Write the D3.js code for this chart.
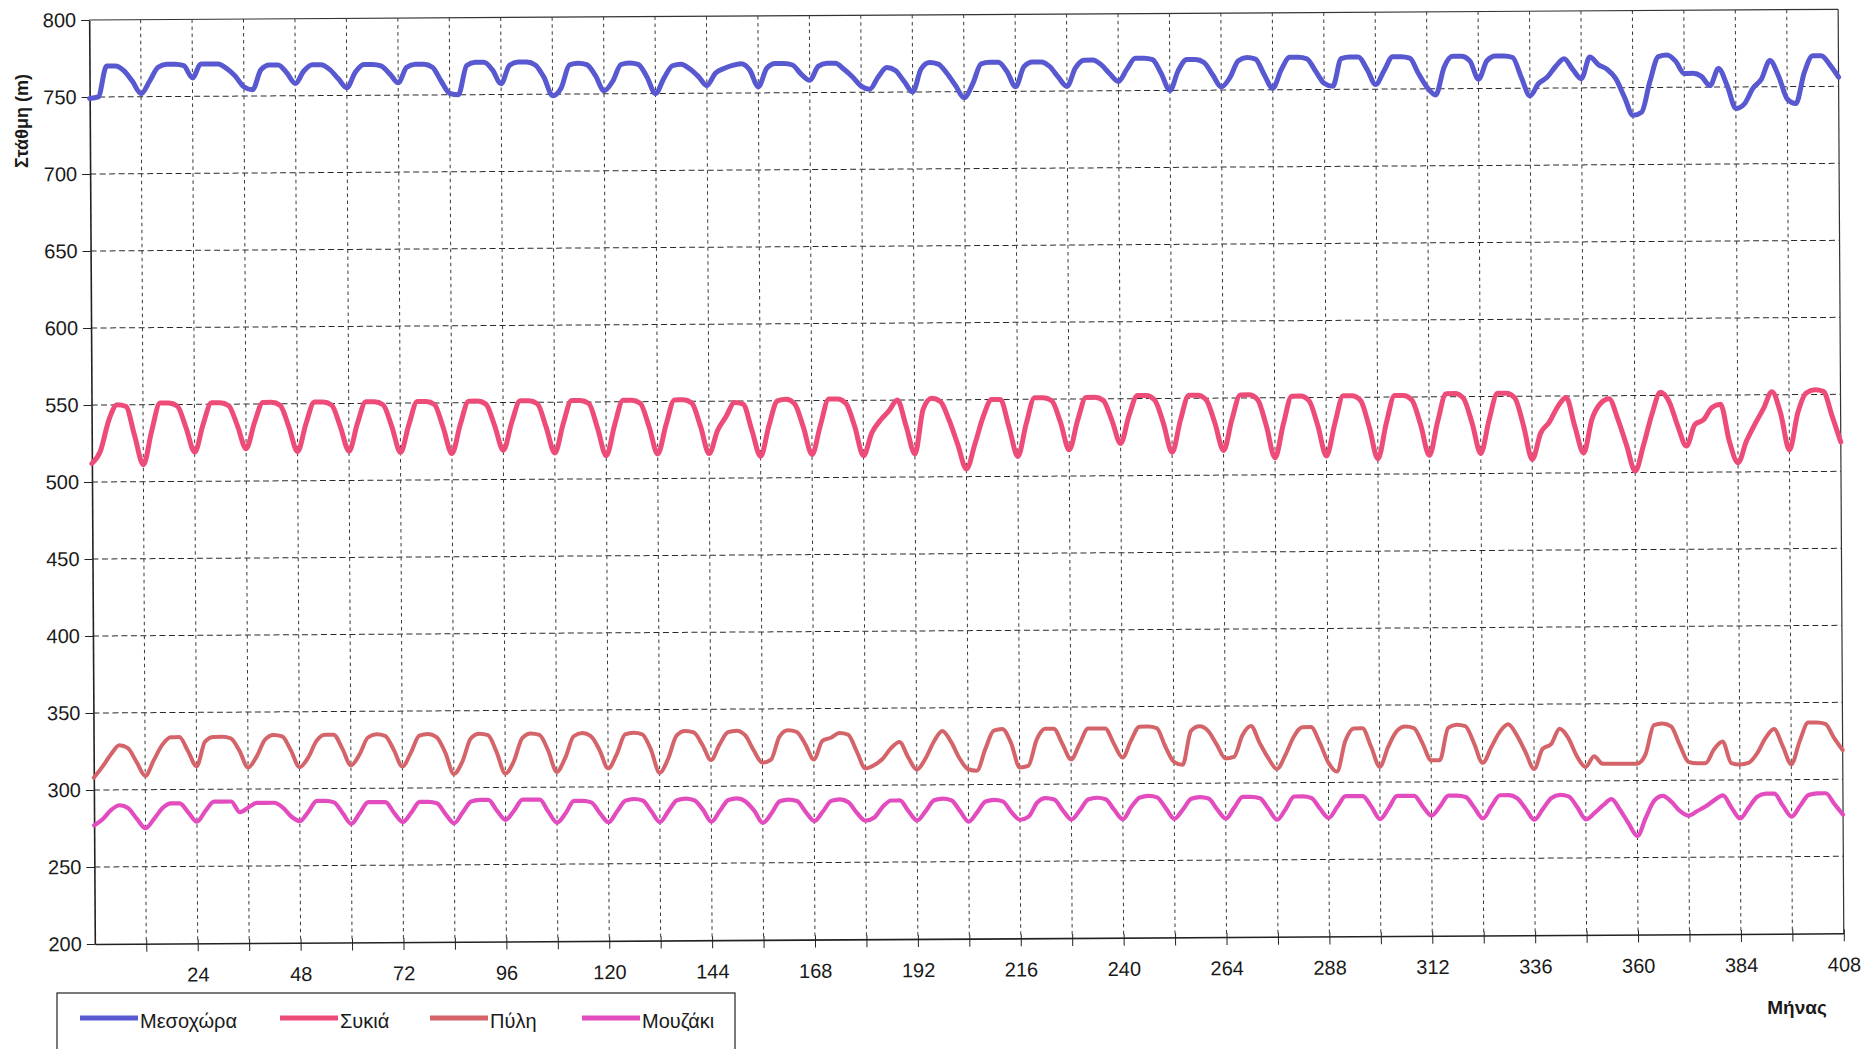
<!DOCTYPE html>
<html><head><meta charset="utf-8">
<script src="https://cdn.jsdelivr.net/npm/d3@7"></script>
<style>
body{margin:0;background:#fff;}
text{font-family:"Liberation Sans",Arial,sans-serif;fill:#1a1a1a;}
</style>
</head><body>
<svg id="chart" width="1862" height="1049"></svg>
<script>
// ---- DATA ----
const months = [0,2,4,6,8,10,12,14,16,18,20,22,24,26,28,30,32,34,36,38,40,42,44,46,48,50,52,54,56,58,60,62,64,66,68,70,72,74,76,78,80,82,84,86,88,90,92,94,96,98,100,102,104,106,108,110,112,114,116,118,120,122,124,126,128,130,132,134,136,138,140,142,144,146,148,150,152,154,156,158,160,162,164,166,168,170,172,174,176,178,180,182,184,186,188,190,192,194,196,198,200,202,204,206,208,210,212,214,216,218,220,222,224,226,228,230,232,234,236,238,240,242,244,246,248,250,252,254,256,258,260,262,264,266,268,270,272,274,276,278,280,282,284,286,288,290,292,294,296,298,300,302,304,306,308,310,312,314,316,318,320,322,324,326,328,330,332,334,336,338,340,342,344,346,348,350,352,354,356,358,360,362,364,366,368,370,372,374,376,378,380,382,384,386,388,390,392,394,396,398,400,402,404,406,408];

const seriesNames = ["Μεσοχώρα","Συκιά","Πύλη","Μουζάκι"];

const mesochora = [
749,750,770,770,767,760, 752,760,769,771,771,770, 762,771,771,771,768,763, 756,754,767,770,770,765,
758,766,770,770,767,761, 755,765,770,770,769,764, 758,768,770,770,768,759, 751,750,769,771,771,766,
757,769,771,771,769,761, 749,754,769,770,769,762, 752,758,769,770,769,761, 750,760,768,769,766,761,
755,763,766,768,769,765, 754,766,769,769,768,762, 758,767,769,769,765,760, 754,752,760,766,764,757,
750,765,769,768,762,754, 746,755,768,769,769,763, 753,766,769,769,766,759, 753,765,770,770,767,761,
756,764,771,771,770,761, 750,763,770,770,768,760, 752,758,769,771,770,760, 751,763,771,771,770,762,
754,752,770,771,771,763, 753,762,771,771,770,760, 751,746,764,771,771,768, 756,768,771,771,770,757,
745,753,757,764,769,762, 756,770,765,762,756,744, 732,734,754,770,771,767, 759,759,757,751,762,751,
736,739,749,755,767,757, 742,739,759,770,770,764, 756];

const sykia = [
512,520,540,550,549,530, 511,533,551,551,549,535, 519,537,551,551,549,536, 521,538,551,551,549,535,
519,537,551,551,549,535, 519,537,551,551,549,535, 518,536,551,551,549,534, 517,536,551,551,549,535,
519,537,551,551,549,534, 517,536,551,551,549,533, 515,535,551,551,549,534, 516,535,551,551,549,534,
516,531,540,549,548,531, 514,534,550,551,548,533, 515,534,551,551,548,533, 514,529,537,543,550,533,
515,544,551,549,537,521, 505,521,539,550,550,532, 513,534,551,551,549,535, 517,536,551,551,549,536,
521,539,552,552,549,534, 515,536,552,552,549,534, 516,536,552,552,549,532, 511,533,551,551,548,532,
512,533,551,551,548,531, 510,533,551,551,548,532, 512,534,552,552,549,533, 513,535,552,552,549,531,
509,526,533,543,549,530, 513,535,545,548,535,518, 501,518,538,552,546,530, 517,531,534,542,544,520,
506,520,531,541,552,538, 514,538,551,553,552,536, 519];

const pyli = [
308,315,323,329,327,318, 309,319,329,334,334,325, 315,331,334,334,333,325, 314,321,332,335,334,325,
314,320,331,335,335,326, 315,322,333,335,334,325, 314,323,334,335,333,323, 309,317,332,335,334,323,
309,317,332,335,334,324, 310,319,333,335,333,324, 312,321,334,335,334,324, 309,318,333,336,335,327,
317,327,335,336,333,323, 315,317,332,336,335,327, 317,329,331,334,333,322, 311,313,317,324,328,318,
310,317,328,335,328,317, 310,309,323,335,336,327, 311,312,329,336,336,326, 316,326,336,336,336,326,
317,328,337,337,336,324, 314,312,334,337,334,325, 316,317,331,337,326,316, 309,318,330,336,336,326,
313,307,327,335,335,323, 310,323,333,336,335,325, 314,314,335,337,336,325, 312,322,332,337,330,319,
308,321,324,334,328,316, 309,316,311,311,311,311, 311,317,336,337,335,323, 312,311,311,320,325,311,
310,311,317,327,333,322, 310,325,337,337,336,327, 319];

const mouzaki = [
277,281,287,290,288,281, 275,281,288,291,291,285, 279,286,292,292,292,285, 288,291,291,291,288,282,
279,285,292,292,291,284, 277,284,291,291,291,284, 278,284,291,291,290,283, 277,284,291,292,292,285,
279,285,292,292,292,284, 277,283,291,291,290,283, 277,284,291,292,291,284, 277,284,291,292,291,285,
277,284,291,292,290,284, 276,282,290,291,290,283, 277,283,290,291,289,282, 277,279,286,290,290,283,
277,283,290,291,290,283, 276,282,289,290,289,282, 277,279,288,291,290,283, 277,283,290,291,290,283,
277,285,291,292,291,284, 277,283,290,291,290,283, 277,284,291,291,290,283, 276,283,291,291,290,283,
277,284,291,291,291,284, 276,283,291,291,291,284, 278,284,291,291,290,283, 276,284,291,291,289,282,
275,282,289,291,290,283, 275,279,284,288,281,272, 264,276,287,290,286,280, 277,280,283,287,290,282,
275,282,289,291,291,283, 276,283,290,291,291,284, 277];

const gridMonths = [12,24,36,48,60,72,84,96,108,120,132,144,156,168,180,192,204,216,228,240,252,264,276,288,300,312,324,336,348,360,372,384,396,408];
const xTickLabels = [24,48,72,96,120,144,168,192,216,240,264,288,312,336,360,384,408];
const yTicks = [200,250,300,350,400,450,500,550,600,650,700,750,800];

const yTitle = "Στάθμη (m)";
const xTitle = "Μήνας";

// ---- DRAW ----
const colors = ["#5858d0","#ee4c78","#d4646a","#e24cbe"];
const widths = [5,5,4,4.2];
const allSeries = [mesochora, sykia, pyli, mouzaki];

const svg = d3.select("#chart");
const x = d3.scaleLinear().domain([0,408]).range([92,1841]);
const y = d3.scaleLinear().domain([200,800]).range([944,20]);

const g = svg.append("g").attr("transform","rotate(-0.35,92,482)");

// horizontal grid
g.append("g").selectAll("line").data(yTicks.filter(v=>v>200&&v<800)).join("line")
  .attr("x1",x(0)).attr("x2",x(408)).attr("y1",d=>y(d)).attr("y2",d=>y(d))
  .attr("stroke","#2a2a2a").attr("stroke-width",1).attr("stroke-dasharray","6,3.5");
// vertical grid
g.append("g").selectAll("line").data(gridMonths.filter(v=>v<408)).join("line")
  .attr("x1",d=>x(d)).attr("x2",d=>x(d)).attr("y1",y(800)).attr("y2",y(200))
  .attr("stroke","#3a3a3a").attr("stroke-width",1).attr("stroke-dasharray","3.5,3.5");

// frame top/right
g.append("line").attr("x1",x(0)).attr("x2",x(408)).attr("y1",y(800)).attr("y2",y(800)).attr("stroke","#333").attr("stroke-width",1.2);
g.append("line").attr("x1",x(408)).attr("x2",x(408)).attr("y1",y(800)).attr("y2",y(200)).attr("stroke","#333").attr("stroke-width",1.2);

// axes
const xAxis = d3.axisBottom(x).tickValues(gridMonths)
  .tickFormat(d=>xTickLabels.includes(d)?d:"").tickSize(8).tickSizeOuter(0).tickPadding(16);
const xa = g.append("g").attr("transform",`translate(0,${y(200)})`).call(xAxis);
xa.selectAll("text").style("font-size","20px").attr("fill","#1a1a1a");
xa.select(".domain").attr("stroke","#222").attr("stroke-width",1.6);
xa.selectAll(".tick line").attr("stroke","#222").attr("y1",-4);

const yAxis = d3.axisLeft(y).tickValues(yTicks).tickSize(8).tickSizeOuter(0).tickPadding(5);
const ya = g.append("g").attr("transform",`translate(${x(0)},0)`).call(yAxis);
ya.selectAll("text").style("font-size","20px").attr("fill","#1a1a1a");
ya.select(".domain").attr("stroke","#222").attr("stroke-width",1.6);
ya.selectAll(".tick line").attr("stroke","#222");

// series lines
const line = d3.line().x((d,i)=>x(months[i])).y(d=>y(d)).curve(d3.curveMonotoneX);
allSeries.forEach((s,k)=>{
  g.append("path").datum(s).attr("d",line).attr("fill","none")
   .attr("stroke",colors[k]).attr("stroke-width",widths[k])
   .attr("stroke-linejoin","round").attr("stroke-linecap","round");
});

// axis titles
svg.append("text").attr("transform","translate(28,121) rotate(-90)")
  .attr("text-anchor","middle").style("font-size","18px").style("font-weight","bold").text(yTitle);
svg.append("text").attr("x",1797).attr("y",1014).attr("text-anchor","middle")
  .style("font-size","19px").style("font-weight","bold").text(xTitle);

// legend
const lg = svg.append("g");
lg.append("rect").attr("x",57).attr("y",993).attr("width",678).attr("height",62)
  .attr("fill","none").attr("stroke","#333").attr("stroke-width",1.3);
const legX = [80,280,430,582];
seriesNames.forEach((n,k)=>{
  lg.append("line").attr("x1",legX[k]).attr("x2",legX[k]+58).attr("y1",1018).attr("y2",1018)
    .attr("stroke",colors[k]).attr("stroke-width",5);
  lg.append("text").attr("x",legX[k]+60).attr("y",1028).style("font-size","20px").text(n);
});
</script>
</body></html>
